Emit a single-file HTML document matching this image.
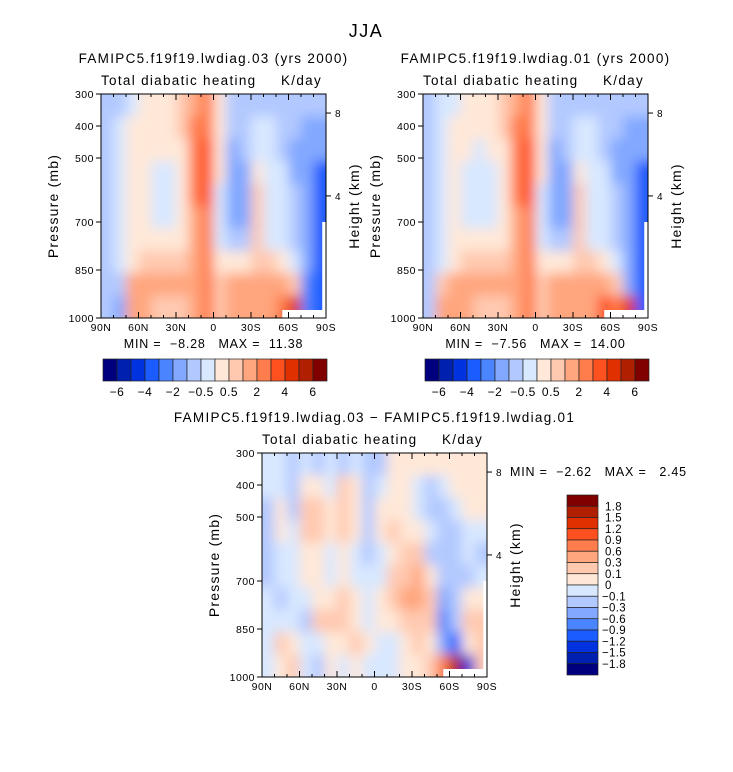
<!DOCTYPE html>
<html><head><meta charset="utf-8">
<style>
html,body{margin:0;padding:0;background:#fff;}
svg{display:block;font-family:"Liberation Sans",sans-serif;}
text{white-space:pre;}
</style></head>
<body>
<svg id="fig" width="733" height="772" viewBox="0 0 733 772" xmlns="http://www.w3.org/2000/svg">
<defs>
<filter id="sm" x="-10%" y="-10%" width="120%" height="120%"><feGaussianBlur stdDeviation="6"/></filter>
</defs>
<text x="366" y="37" font-size="18" letter-spacing="1.5" text-anchor="middle">JJA</text>
</svg>
<script>
// ---- data ----
const latLabels = ["90N","60N","30N","0","30S","60S","90S"];
const presTicks = [300,400,500,700,850,1000];
const heightTicks = [8,4];
const topLevels = [-6,-5,-4,-3,-2,-1,-0.5,0,0.5,1,2,3,4,5,6];
const topLevelLabels = ["-6","-4","-2","-0.5","0.5","2","4","6"];
const diffLevels = [-1.8,-1.5,-1.2,-0.9,-0.6,-0.3,-0.1,0,0.1,0.3,0.6,0.9,1.2,1.5,1.8];
const palette = ["#00007f","#0020b0","#0032e0","#1a5cff","#4a84ff","#82a8ff","#b2c9ff","#d8e8ff","#ffe8d8","#ffc9b0","#ffa67e","#ff7c4c","#ff5020","#e03000","#b02000","#800000"];
// grids: columns 90N..90S (10 deg each, 18), rows 300..1000 mb (10 rows)
const gridA = [
[-0.7,-0.7,-0.7,-0.7,-0.7,-0.7,-0.7,-0.7,-0.7,-0.7],
[-0.7,-0.3,-0.3,-0.3,-0.3,-0.3,-0.3,-0.3,-0.7,-1.5],
[-0.3,0.3,0.3,0.3,0.3,0.3,0.3,0.3,1.5,1.5],
[0.3,0.3,0.3,0.3,0.3,0.3,0.3,0.7,1.5,1.5],
[0.3,0.3,0.3,-0.3,-0.3,-0.3,0.3,0.7,1.5,0.7],
[0.3,0.3,0.3,-0.3,-0.3,-0.3,0.3,0.7,1.5,0.7],
[0.7,0.7,0.3,0.3,0.3,0.3,0.3,0.7,1.5,0.7],
[1.5,2.5,2.5,2.5,2.5,1.5,1.5,1.5,1.5,1.5],
[2.5,2.5,3.5,3.5,3,2.5,2.5,2.5,2.5,2.5],
[0.3,0.3,0.3,0.3,-0.3,-0.3,-0.3,0.3,0.7,0.7],
[-0.7,-0.7,-1.5,-1.5,-1.5,-1.5,-0.7,0.3,1.5,1.5],
[-0.7,-0.7,-0.7,-1.5,-1.5,-1.5,-0.7,0.3,1.5,1.5],
[-0.7,-0.3,-0.3,0.3,0.7,0.7,0.7,0.7,1.5,1.5],
[-0.7,-0.3,-0.3,-0.3,-0.3,-0.3,-0.3,0.7,1.5,1.5],
[-0.7,-0.7,-0.7,-0.3,-0.3,-0.3,-0.3,0.3,1.5,2.5],
[-0.7,-0.7,-1.5,-1.5,-0.7,-0.7,-0.7,-0.3,0.7,4],
[-0.7,-1.5,-1.5,-1.5,-1.5,-1.5,-1.5,-1.5,-2.5,-3],
[-0.7,-1.5,-1.5,-3.5,-3.5,-3.5,-3.5,-3.5,-3.5,-3.5]];
const gridB = [
[-0.7,-0.7,-0.7,-0.7,-0.7,-0.7,-0.7,-0.7,-0.7,-0.7],
[-0.3,-0.3,-0.3,-0.3,-0.3,-0.3,-0.3,-0.3,0.7,1.5],
[-0.3,0.3,0.3,0.3,0.3,0.3,0.3,0.3,1.5,1.5],
[0.3,0.3,0.3,-0.3,-0.3,-0.3,0.3,0.7,1.5,1.5],
[0.3,0.3,-0.3,-0.3,-0.3,-0.3,0.3,0.7,1.5,0.7],
[0.3,0.3,0.3,-0.3,-0.3,-0.3,0.3,0.7,1.5,0.7],
[0.7,0.7,0.3,0.3,0.3,0.3,0.3,0.7,1.5,0.7],
[1.5,2.5,2.5,2.5,2.5,1.5,1.5,1.5,1.5,1.5],
[2.5,2.5,3.5,3.5,3,2.5,2.5,2.5,2.5,2.5],
[0.3,0.3,0.3,0.3,-0.3,-0.3,-0.3,0.3,0.7,0.7],
[-0.7,-0.7,-1.5,-1.5,-1.5,-1.5,-0.7,0.3,1.5,1.5],
[-0.7,-0.7,-0.7,-1.5,-1.5,-1.5,-0.7,0.3,1.5,1.5],
[-0.7,-0.3,-0.3,0.3,0.7,0.7,0.7,0.7,1.5,1.5],
[-0.7,-0.3,-0.3,-0.3,-0.3,-0.3,-0.3,0.7,1.5,1.5],
[-0.7,-0.7,-0.7,-0.3,-0.3,-0.3,-0.3,0.3,1.5,3],
[-0.7,-0.7,-1.5,-1.5,-0.7,-0.7,-0.7,-0.3,0.7,2.5],
[-0.7,-1.5,-1.5,-1.5,-1.5,-1.5,-1.5,-1.5,-1.5,4],
[-0.7,-1.5,-1.5,-3.5,-3.5,-3.5,-3.5,-3.5,-3.5,-3.5]];
const gridD = [
[-0.05,-0.05,-0.2,-0.2,-0.2,-0.2,-0.05,-0.05,-0.05,-0.05],
[-0.05,-0.05,0.05,0.05,-0.05,-0.05,-0.2,-0.05,0.2,0.05],
[-0.2,-0.2,-0.2,-0.05,-0.05,-0.05,-0.05,-0.05,0.05,0.2],
[-0.05,0.05,0.2,0.2,0.05,0.05,-0.05,-0.2,-0.05,-0.05],
[-0.2,0.05,0.2,0.2,0.05,0.05,0.05,0.2,-0.05,-0.2],
[-0.05,-0.05,0.05,0.05,-0.05,-0.05,0.05,0.2,0.05,0.05],
[-0.2,0.2,0.2,0.2,0.05,0.05,0.2,0.2,0.05,-0.05],
[-0.05,0.05,0.05,0.05,-0.05,-0.05,0.05,0.05,0.2,0.05],
[-0.2,-0.2,-0.2,-0.2,-0.2,-0.05,-0.05,-0.05,0.05,-0.05],
[-0.2,-0.05,0.05,0.05,-0.05,-0.05,0.05,0.05,-0.05,-0.05],
[0.05,0.05,0.05,0.2,0.05,0.2,0.2,0.05,-0.05,-0.05],
[0.05,0.05,0.05,0.05,0.2,0.2,0.45,0.2,0.05,0.05],
[0.05,-0.05,-0.05,0.05,0.2,0.45,0.45,0.2,0.2,0.05],
[0.05,-0.2,-0.2,-0.05,-0.2,0.05,0.2,0.2,0.05,0.2],
[0.05,-0.05,-0.2,-0.2,-0.2,-0.2,-0.45,-0.9,-0.6,0.6],
[0.05,0.05,-0.05,-0.2,-0.2,-0.2,-0.2,-0.2,-1.2,1.5],
[0.05,0.05,0.05,-0.05,-0.05,-0.2,0.05,0.2,0.05,-1.5],
[0.05,0.05,0.05,-0.05,-0.2,-0.05,0.05,0.2,0.2,0.2]];

const NS="http://www.w3.org/2000/svg";
const svg=document.getElementById('fig');
function mk(tag,attrs,parent){const e=document.createElementNS(NS,tag);for(const k in attrs)e.setAttribute(k,attrs[k]);(parent||svg).appendChild(e);return e;}
function colorFor(v,levels){let i=0;while(i<levels.length&&v>=levels[i])i++;return palette[i];}
function txt(x,y,s,size,anchor,parent,ls){const t=mk('text',{x:x,y:y,'font-size':size,'text-anchor':anchor||'middle','letter-spacing':ls||0.5},parent);t.textContent=s;return t;}

function panel(id,ox,oy,W,H,grid,levels,title,minmax){
  const g=mk('g',{});
  
  
  const xS=lat=>ox+(90-lat)/180*W;
  const yS=p=>oy+(p-300)/700*H;
  const cp=mk('clipPath',{id:'cp'+id},g);
  mk('rect',{x:ox,y:oy,width:W,height:H},cp);
  const cg=mk('g',{'clip-path':'url(#cp'+id+')'},g);
  const fg=mk('g',{filter:'url(#sm)'},cg);
  const nr=grid[0].length, nc=grid.length;
  for(let c=0;c<nc;c++){for(let r=0;r<nr;r++){
    const lat0=90-c*180/nc, lat1=90-(c+1)*180/nc;
    const p0=300+r*700/nr, p1=300+(r+1)*700/nr;
    let x0=xS(lat0),x1=xS(lat1),y0=yS(p0),y1=yS(p1);
    if(c==0)x0-=20; if(c==nc-1)x1+=20; if(r==0)y0-=20; if(r==nr-1)y1+=20;
    const rc=mk('rect',{x:x0,y:y0,width:x1-x0+0.5,height:y1-y0+0.5,fill:colorFor(grid[c][r],levels)},fg);
    
    
  }}
  mk('rect',{x:xS(-55),y:oy+H-8,width:W,height:10,fill:'#fff'},cg);
  mk('rect',{x:xS(-87),y:yS(700),width:W,height:H,fill:'#fff'},cg);
  mk('rect',{x:ox,y:oy,width:W,height:H,fill:'none',stroke:'#000','stroke-width':1},g);
  latLabels.forEach((l,i)=>{const x=ox+i*W/6;
    mk('line',{x1:x,x2:x,y1:oy+H,y2:oy+H-6,stroke:'#000'},g);
    mk('line',{x1:x,x2:x,y1:oy,y2:oy+6,stroke:'#000'},g);
    const t=txt(x,oy+H+13,l,10.5,'middle',g);
    
    
  });
  for(let k=0;k<=18;k++){const x=ox+k*W/18;
    mk('line',{x1:x,x2:x,y1:oy+H,y2:oy+H-3,stroke:'#000'},g);
    mk('line',{x1:x,x2:x,y1:oy,y2:oy+3,stroke:'#000'},g);}
  presTicks.forEach(p=>{const y=yS(p);
    mk('line',{x1:ox,x2:ox-5,y1:y,y2:y,stroke:'#000'},g);
    const t=txt(ox-7,y+4,String(p),10.5,'end',g);
    
    
  });
  const hy={8:0.085,4:0.455};
  heightTicks.forEach(h=>{const y=oy+hy[h]*H;
    mk('line',{x1:ox+W,x2:ox+W+5,y1:y,y2:y,stroke:'#000'},g);
    const t=txt(ox+W+9,y+4,String(h),10,'start',g);
    
    
  });
  const yt=txt(0,0,'Pressure (mb)',14,'middle',g,1.2);
  yt.setAttribute('transform','translate('+(ox-43)+','+(oy+H/2)+') rotate(-90)');
  
  
  const ht=txt(0,0,'Height (km)',14,'middle',g,1.2);
  ht.setAttribute('transform','translate('+(ox+W+33)+','+(oy+H/2)+') rotate(-90)');
  
  
  const tt=txt(ox+W/2,oy-31,title,13.5,'middle',g,1.3);
  
  
  const st=txt(ox,oy-9,'Total diabatic heating',13.5,'start',g,1.3);
  
  
  const ut=txt(ox+W-4,oy-9,'K/day',13.5,'end',g,1.3);
  
  
  if(minmax){
    const mm=txt(ox+W/2,oy+H+30,minmax,12.5,'middle',g,0.8);
    
    
  }
}
panel('panel-lwdiag03',101,94,225,224,gridA,topLevels,'FAMIPC5.f19f19.lwdiag.03 (yrs 2000)','MIN =  \u22128.28   MAX =  11.38');
panel('panel-lwdiag01',423,94,225,224,gridB,topLevels,'FAMIPC5.f19f19.lwdiag.01 (yrs 2000)','MIN =  \u22127.56   MAX =  14.00');
panel('panel-difference',262,453,225,224,gridD,diffLevels,'FAMIPC5.f19f19.lwdiag.03 \u2212 FAMIPC5.f19f19.lwdiag.01',null);
const dmm=txt(510,476,'MIN =  \u22122.62   MAX =   2.45',12.5,'start',null,0.8);



function hbar(id,ox,oy){
  const g=mk('g',{});
  
  
  const bw=14;
  palette.forEach((c,i)=>{const r=mk('rect',{x:ox+i*bw,y:oy,width:bw,height:22,fill:c,stroke:'#222','stroke-width':0.7},g);
    
    });
  topLevelLabels.forEach((l,i)=>{const t=txt(ox+(2*i+1)*bw,oy+37,l.replace('-','\u2212'),12,'middle',g,0.5);
    
    });
}
hbar('colorbar-left',103,359);
hbar('colorbar-right',425,359);
(function(){
  const g=mk('g',{});
  
  
  const ox=567,oy=495,bh=11.25;
  palette.slice().reverse().forEach((c,i)=>{const r=mk('rect',{x:ox,y:oy+i*bh,width:31,height:bh,fill:c,stroke:'#222','stroke-width':0.7},g);
    
    });
  diffLevels.slice().reverse().forEach((v,i)=>{
    const s=(v===0?'0':(v<0?'\u2212':'')+Math.abs(v).toFixed(1));
    const t=txt(v<0?602:605,oy+(i+1)*bh+4,s,11.5,'start',g,0.3);
    
    });
})();
</script>
</body></html>
